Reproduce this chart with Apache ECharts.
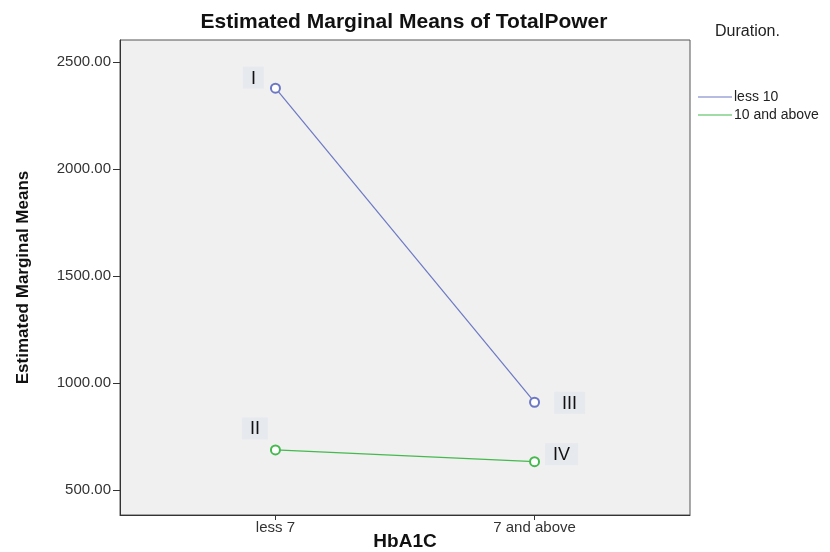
<!DOCTYPE html>
<html>
<head>
<meta charset="utf-8">
<script src="https://cdn.jsdelivr.net/npm/echarts@6/dist/echarts.min.js"></script>
<style>
  html, body { margin: 0; padding: 0; background: #fff; }
  #main { width: 830px; height: 552px; }
</style>
</head>
<body>
<div id="main"></div>
<script>
// 数据
var categories = ['less 7', '7 and above'];
var seriesNames = ['less 10', '10 and above'];
var less10 = [2378, 910];
var above10 = [687, 632];
var pointTags = [['I', 'III'], ['II', 'IV']];
var yTicks = [500, 1000, 1500, 2000, 2500];

function toPairs(arr) {
  return arr.map(function(v, i) { return [i, v]; });
}

var tagLabel = {
  show: true,
  color: '#111',
  fontFamily: 'Liberation Sans',
  fontSize: 18,
  backgroundColor: '#e6e9ee',
  padding: [3, 8, 1, 8],
};

var option = {
  backgroundColor: '#fff',
  animation: false,
  title: [
    {
      text: 'Estimated Marginal Means of TotalPower',
      left: 399,
      textAlign: 'center',
      top: 7,
      textStyle: { fontFamily: 'Liberation Sans', fontWeight: 'bold', fontSize: 21, color: '#111' },
    },
    {
      text: 'Duration.',
      left: 710,
      top: 19,
      textStyle: { fontFamily: 'Liberation Sans', fontWeight: 'normal', fontSize: 16, color: '#222' },
    },
  ],
  legend: {
    orient: 'vertical',
    left: 693,
    top: 85,
    itemGap: 4,
    itemWidth: 34,
    itemHeight: 1,
    icon: 'path://M0,0H34V1H0Z',
    textStyle: { fontFamily: 'Liberation Sans', fontSize: 14, color: '#222', padding: [0, 0, 0, -3] },
    data: seriesNames,
  },
  grid: {
    left: 120,
    right: 140,
    top: 40,
    bottom: 37,
    outerBoundsMode: 'none',
    show: true,
    backgroundColor: '#f0f0f0',
    borderColor: '#555',
    borderWidth: 1,
  },
  xAxis: {
    type: 'value',
    min: -0.6,
    max: 1.6,
    name: 'HbA1C',
    nameLocation: 'middle',
    nameGap: 17,
    nameMoveOverlap: false,
    nameTextStyle: { fontFamily: 'Liberation Sans', fontWeight: 'bold', fontSize: 19, color: '#111', verticalAlign: 'top' },
    splitLine: { show: false },
    axisLine: { onZero: false, lineStyle: { color: '#333' } },
    axisTick: { customValues: [0, 1], length: 5, lineStyle: { color: '#333' } },
    axisLabel: {
      customValues: [0, 1],
      formatter: function(v) { return categories[Math.round(v)]; },
      fontFamily: 'Liberation Sans',
      fontSize: 15,
      color: '#333',
      margin: 5,
    },
  },
  yAxis: {
    type: 'value',
    min: 383,
    max: 2603,
    name: 'Estimated Marginal Means',
    nameLocation: 'middle',
    nameGap: 88,
    nameMoveOverlap: false,
    nameTextStyle: { fontFamily: 'Liberation Sans', fontWeight: 'bold', fontSize: 17, color: '#111' },
    splitLine: { show: false },
    axisLine: { show: true, onZero: false, lineStyle: { color: '#333' } },
    axisTick: { customValues: yTicks, length: 7, lineStyle: { color: '#333' } },
    axisLabel: {
      customValues: yTicks,
      formatter: function(v) { return v.toFixed(2); },
      fontFamily: 'Liberation Sans',
      fontSize: 15,
      color: '#333',
      margin: 9,
    },
  },
  series: [
    {
      name: seriesNames[0],
      type: 'line',
      data: toPairs(less10),
      symbol: 'emptyCircle',
      symbolSize: 9,
      color: '#6c78c4',
      lineStyle: { width: 1.2 },
      label: Object.assign({}, tagLabel, {
        formatter: function(p) { return pointTags[0][p.dataIndex]; },
        position: [-27, -16],
      }),
      labelLayout: function(params) {
        return params.dataIndex === 1 ? { dx: 52, dy: 11 } : {};
      },
    },
    {
      name: seriesNames[1],
      type: 'line',
      data: toPairs(above10),
      symbol: 'emptyCircle',
      symbolSize: 9,
      color: '#45b94f',
      lineStyle: { width: 1.2 },
      label: Object.assign({}, tagLabel, {
        formatter: function(p) { return pointTags[1][p.dataIndex]; },
        position: [-28, -27],
      }),
      labelLayout: function(params) {
        return params.dataIndex === 1 ? { dx: 44, dy: 14 } : {};
      },
    },
  ],
};

var myChart = echarts.init(document.getElementById('main'));
myChart.setOption(option);
</script>
</body>
</html>
